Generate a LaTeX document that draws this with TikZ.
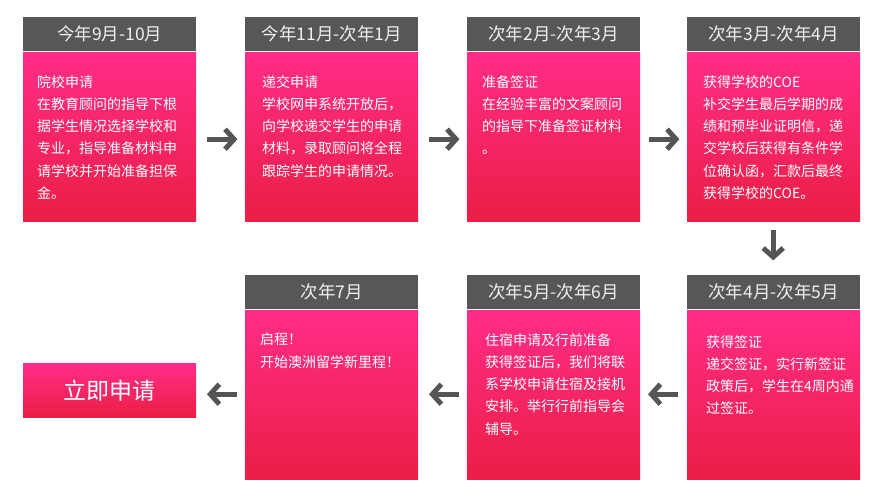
\documentclass[tikz,border=0pt]{standalone}
\usepackage{fontspec}
\setmainfont{Noto Sans CJK SC}
\usetikzlibrary{arrows.meta}
\definecolor{hdrgray}{HTML}{575757}
\definecolor{pinktop}{HTML}{FF2D87}
\definecolor{pinkbot}{HTML}{EA1E45}
\definecolor{hdrtext}{HTML}{F0F0F0}
\definecolor{arrgray}{HTML}{555555}
\tikzset{
  hdr/.style={draw=none, fill=hdrgray, text=hdrtext, minimum width=173pt, minimum height=34pt,
    inner sep=0pt, anchor=north west, font=\fontsize{17.5}{19}\selectfont},
  bodybox/.style={draw=none, top color=pinktop, bottom color=pinkbot, shading angle=0,
    minimum width=173pt, minimum height=169pt, inner sep=0pt, anchor=north west},
  txt/.style={text=white, align=left, inner sep=0pt, anchor=north west,
    font=\fontsize{14}{22.3}\selectfont},
  arr/.style={draw=arrgray, line width=5pt, -{Straight Barb[length=9pt,width=20pt]}},
  btn/.style={draw=none, top color=pinktop, bottom color=pinkbot, shading angle=0,
    minimum width=173pt, minimum height=54pt, inner sep=0pt, anchor=north west,
    text=white, font=\fontsize{23}{25}\selectfont}
}
\begin{document}
\begin{tikzpicture}[x=1pt,y=-1pt]
\useasboundingbox (0,0) rectangle (886,497);
\fill[white] (0,0) rectangle (886,497);
% top row
\node[hdr] (h1) at (23,17) {今年9月-10月};
\node[bodybox] (b1) at (23,52) {};
\node[txt] (t1) at (37,75) {院校申请\\在教育顾问的指导下根\\据学生情况选择学校和\\专业，指导准备材料申\\请学校并开始准备担保\\金。};
\node[hdr] (h2) at (245,17) {今年11月-次年1月};
\node[bodybox] (b2) at (245,52) {};
\node[txt] (t2) at (262,75) {递交申请\\学校网申系统开放后，\\向学校递交学生的申请\\材料，录取顾问将全程\\跟踪学生的申请情况。};
\node[hdr] (h3) at (467,17) {次年2月-次年3月};
\node[bodybox] (b3) at (467,52) {};
\node[txt] (t3) at (482,75) {准备签证\\在经验丰富的文案顾问\\的指导下准备签证材料\\。};
\node[hdr] (h4) at (687,17) {次年3月-次年4月};
\node[bodybox] (b4) at (687,52) {};
\node[txt] (t4) at (703,75) {获得学校的COE\\补交学生最后学期的成\\绩和预毕业证明信，递\\交学校后获得有条件学\\位确认函，汇款后最终\\获得学校的COE。};
% bottom row
\node[hdr] (h5) at (687,275) {次年4月-次年5月};
\node[bodybox] (b5) at (687,310) {};
\node[txt] (t5) at (706,335) {获得签证\\递交签证，实行新签证\\政策后，学生在4周内通\\过签证。};
\node[hdr] (h6) at (467,275) {次年5月-次年6月};
\node[bodybox] (b6) at (467,310) {};
\node[txt] (t6) at (485,333) {住宿申请及行前准备\\获得签证后，我们将联\\系学校申请住宿及接机\\安排。举行行前指导会\\辅导。};
\node[hdr] (h7) at (245,275) {次年7月};
\node[bodybox] (b7) at (245,310) {};
\node[txt] (t7) at (260,333) {启程！\\开始澳洲留学新里程！};
\node[btn] (go) at (23,363) {立即申请};
% arrows
\draw[arr] ([yshift=-2.5pt]b1.east) ++(11,0) -- ++(30,0);
\draw[arr] ([yshift=-2.5pt]b2.east) ++(11,0) -- ++(30,0);
\draw[arr] ([yshift=-2.5pt]b3.east) ++(9,0) -- ++(30,0);
\draw[arr] ([xshift=-0.5pt]b4.south) ++(0,9) -- ++(0,30);
\draw[arr] ([yshift=0.5pt]b5.west) ++(-9,0) -- ++(-30,0);
\draw[arr] ([yshift=0.5pt]b6.west) ++(-8,0) -- ++(-30,0);
\draw[arr] ([yshift=0.5pt]b7.west) ++(-8,0) -- ++(-30,0);
\end{tikzpicture}
\end{document}
